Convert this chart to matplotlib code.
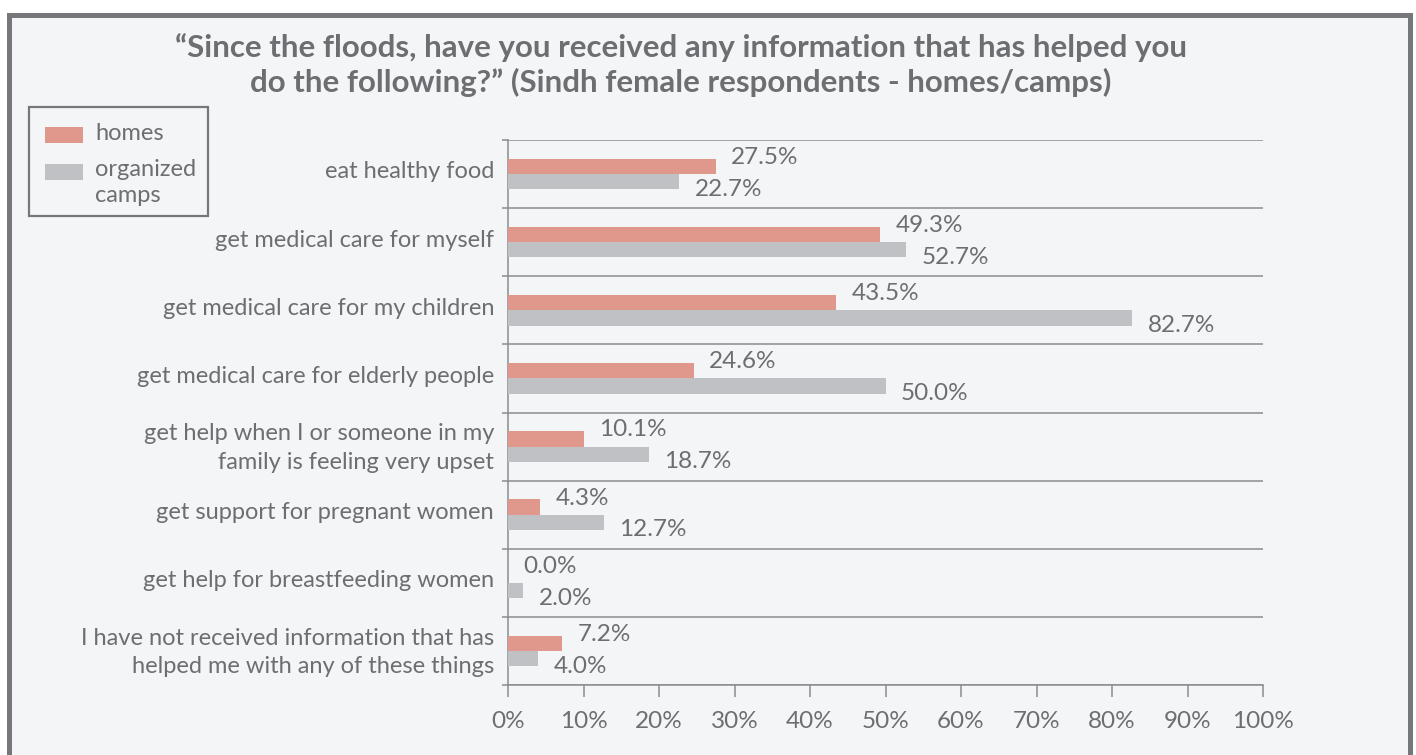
#!/usr/bin/python
import matplotlib
matplotlib.use('Agg')
import matplotlib.pyplot as plt
import matplotlib.transforms as mtransforms
from matplotlib.patches import Rectangle

#===============================
categories = ["eat healthy food",
              "get medical care for myself",
              "get medical care for my children",
              "get medical care for elderly people",
              "get help when I or someone in my\nfamily is feeling very upset",
              "get support for pregnant women",
              "get help for breastfeeding women",
              "I have not received information that has\nhelped me with any of these things"]
homes = [27.5, 49.3, 43.5, 24.6, 10.1, 4.3, 0.0, 7.2]
camps = [22.7, 52.7, 82.7, 50.0, 18.7, 12.7, 2.0, 4.0]
xticks = [0, 10, 20, 30, 40, 50, 60, 70, 80, 90, 100]

title = ("\u201cSince the floods, have you received any information that has helped you\n"
         "do the following?\u201d (Sindh female respondents - homes/camps)")

BG = '#f4f5f7'
TXT = '#6d6e72'
LINE = '#8b8c90'
FRAME = '#76777b'
C_HOME = '#df988b'
C_CAMP = '#c0c1c4'

W, H = 1416., 755.

def px(x, y):
  # pixel position (from top left) -> figure fraction
  return x / W, 1 - y / H

#==================================
def DrawFig(filename):
  plt.rcParams['font.family'] = ['Lato', 'DejaVu Sans']
  fig = plt.figure(figsize=(W / 100, H / 100), dpi=100)
  fig.patch.set_facecolor('white')

  # outer panel with thick grey border (bottom edge runs off the page)
  x0, y0 = px(8.5, 800)
  fig.patches.append(Rectangle((x0, y0), (1409.5 - 8.5) / W, (800 - 14.5) / H,
                               transform=fig.transFigure, facecolor=BG,
                               edgecolor=FRAME, linewidth=3.6, zorder=-5))

  ax = fig.add_axes([508 / W, 1 - 685 / H, 755 / W, 545 / H])
  ax.set_facecolor(BG)

  n = len(categories)
  h = 0.224
  for i in range(n):
    yh = i + 0.5 - h / 2
    yc = i + 0.5 + h / 2
    ax.barh(yh, homes[i], height=h, color=C_HOME, zorder=3)
    ax.barh(yc, camps[i], height=h, color=C_CAMP, zorder=3)
    ax.annotate('%.1f%%' % homes[i], (homes[i], yh), xytext=(11, 6.5),
                textcoords='offset points', ha='left', va='center',
                fontsize=17.5, color=TXT)
    ax.annotate('%.1f%%' % camps[i], (camps[i], yc), xytext=(11, -5.5),
                textcoords='offset points', ha='left', va='center',
                fontsize=17.5, color=TXT)

  ax.set_xlim(0, 100)
  ax.set_ylim(n, 0)
  ax.set_xticks(xticks)
  ax.set_xticklabels(['%d%%' % t for t in xticks])
  ax.set_yticks(range(n + 1))
  ax.set_yticklabels([])
  ax.set_yticks([i + 0.5 for i in range(n)], minor=True)
  ax.set_yticklabels(categories, minor=True, ha='right', linespacing=1.45)
  ax.grid(axis='y', which='major', color=LINE, linewidth=1.1, zorder=1)

  ax.tick_params(axis='x', direction='out', length=8.5, width=1.1, color=LINE,
                 labelsize=17.5, labelcolor=TXT, pad=10)
  ax.tick_params(axis='y', which='major', direction='out', length=4.5, width=1.1, color=LINE)
  ax.tick_params(axis='y', which='minor', length=0, labelsize=17, labelcolor=TXT, pad=10)
  # nudge category labels up a little
  up = mtransforms.ScaledTranslation(0, 3 / 72., fig.dpi_scale_trans)
  for lbl in ax.get_yticklabels(minor=True):
    lbl.set_transform(lbl.get_transform() + up)

  for s in ['top', 'right']:
    ax.spines[s].set_visible(False)
  for s in ['left', 'bottom']:
    ax.spines[s].set_color(LINE)
    ax.spines[s].set_linewidth(1.1)

  fig.text(*px(681, 65), title, ha='center', va='center',
           fontsize=22.5, fontweight='bold', color=TXT, linespacing=1.25)

  # legend box, drawn by hand so the grey swatch sits on the first text line
  lx, ly = px(29, 216)
  fig.patches.append(Rectangle((lx, ly), (208 - 29) / W, (216 - 107) / H,
                               transform=fig.transFigure, facecolor=BG,
                               edgecolor=FRAME, linewidth=1.6))
  for y, c in [(127, C_HOME), (164, C_CAMP)]:
    sx, sy = px(45, y + 16)
    fig.patches.append(Rectangle((sx, sy), 38 / W, 16 / H,
                                 transform=fig.transFigure, facecolor=c,
                                 edgecolor='none'))
  fig.text(*px(95, 133), 'homes', ha='left', va='center', fontsize=17, color=TXT)
  fig.text(*px(95, 170), 'organized', ha='left', va='center', fontsize=17, color=TXT)
  fig.text(*px(95, 195), 'camps', ha='left', va='center', fontsize=17, color=TXT)

  plt.savefig(filename, dpi=100, facecolor=fig.get_facecolor())
  return

#==================================
def main():
  DrawFig("out.png")
  return

# -------------------------------
if __name__ == '__main__':
  main()
